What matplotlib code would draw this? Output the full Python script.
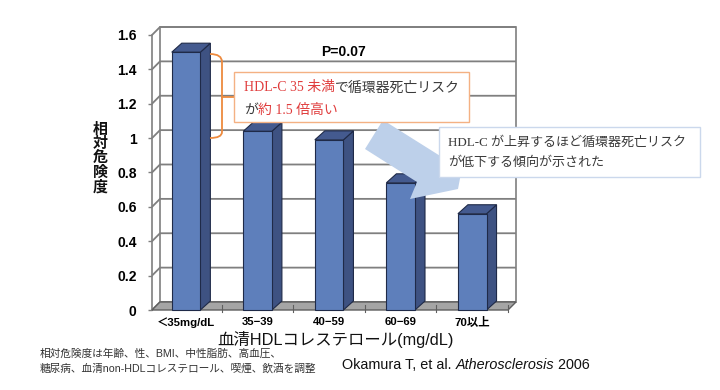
import matplotlib
matplotlib.use("Agg")
import matplotlib.pyplot as plt
from matplotlib.patches import Polygon, Rectangle
from matplotlib.path import Path
from matplotlib.patches import PathPatch

# ---------------- data ----------------
categories = ["＜35mg/dL", "35−39", "40−59", "60−69", "70以上"]
values = [1.50, 1.04, 0.99, 0.74, 0.56]
yticks = [0, 0.2, 0.4, 0.6, 0.8, 1.0, 1.2, 1.4, 1.6]
ytick_labels = ["0", "0.2", "0.4", "0.6", "0.8", "1", "1.2", "1.4", "1.6"]
ylabel = "相対危険度"
xlabel = "血清HDLコレステロール(mg/dL)"
p_text = "P=0.07"
note_lines = ["相対危険度は年齢、性、BMI、中性脂肪、高血圧、",
              "糖尿病、血清non-HDLコレステロール、喫煙、飲酒を調整"]

W, H = 720, 390
fig = plt.figure(figsize=(W / 100, H / 100), dpi=100)
fig.patch.set_facecolor("white")

JP = ["Liberation Sans", "Noto Sans CJK JP"]
SERIF_JP = ["Liberation Serif", "Noto Sans CJK JP"]

# main (front plane) axes
ax_l, ax_r, ax_b, ax_t = 152, 508, 310, 35
ax = fig.add_axes([ax_l / W, (H - ax_b) / H, (ax_r - ax_l) / W, (ax_b - ax_t) / H])
x0, x1 = -0.476, 4.5
y0, y1 = 0.0, 1.6
ax.set_xlim(x0, x1)
ax.set_ylim(y0, y1)
ax.set_facecolor("none")
for s in ["top", "right", "bottom"]:
    ax.spines[s].set_visible(False)
ax.spines["left"].set_color("#7f7f7f")
ax.spines["left"].set_linewidth(1.2)

pxx = (ax_r - ax_l) / (x1 - x0)
pxy = (ax_b - ax_t) / (y1 - y0)
wdx, wdy = 8 / pxx, 8 / pxy      # wall depth
bdx, bdy = 10 / pxx, 9 / pxy     # bar depth
bw = 0.40

grid_c = "#7f7f7f"
# back wall
ax.add_patch(Polygon([(x0 + wdx, wdy), (x1 + wdx, wdy), (x1 + wdx, y1 + wdy), (x0 + wdx, y1 + wdy)],
                     closed=True, facecolor="white", edgecolor=grid_c, lw=1.2, clip_on=False, zorder=1))
for yv in yticks:
    ax.plot([x0, x0 + wdx, x1 + wdx], [yv, yv + wdy, yv + wdy], color=grid_c, lw=1.3,
            clip_on=False, zorder=2, solid_capstyle="butt")
# floor
ax.add_patch(Polygon([(x0, 0), (x1, 0), (x1 + wdx, wdy), (x0 + wdx, wdy)], closed=True,
                     facecolor="#a5a5a5", edgecolor="#5f5f5f", lw=1.0, clip_on=False, zorder=3))
for i in range(len(categories)):
    xm = i + 0.5
    ax.plot([xm, xm], [-0.012, wdy * 0.6], color="#5f5f5f", lw=0.8, clip_on=False, zorder=3)

# bars
front_c, side_c, top_c, edge_c = "#5e7fbb", "#3e5282", "#445a8f", "#1f2a48"
for i, v in enumerate(values):
    xl, xr = i - bw / 2, i + bw / 2
    ax.add_patch(Polygon([(xr, 0), (xr + bdx, bdy), (xr + bdx, v + bdy), (xr, v)], closed=True,
                         facecolor=side_c, edgecolor=edge_c, lw=0.8, clip_on=False, zorder=5))
    ax.add_patch(Polygon([(xl, v), (xr, v), (xr + bdx, v + bdy), (xl + bdx, v + bdy)], closed=True,
                         facecolor=top_c, edgecolor=edge_c, lw=0.8, clip_on=False, zorder=5))
    ax.add_patch(Rectangle((xl, 0), bw, v, facecolor=front_c, edgecolor=edge_c, lw=0.8,
                           clip_on=False, zorder=6))

ax.set_yticks(yticks)
ax.set_yticklabels(ytick_labels, fontsize=10, fontweight="bold", family=JP)
ax.tick_params(axis="y", length=3, width=1.0, color=grid_c, pad=8)
ax.set_xticks(range(len(categories)))
ax.set_xticklabels(categories, fontsize=8.2, fontweight="bold", family=JP)
ax.tick_params(axis="x", length=0, pad=5)

# ---------------- overlay in pixel coords ----------------
ov = fig.add_axes([0, 0, 1, 1])
ov.set_xlim(0, W)
ov.set_ylim(H, 0)
ov.axis("off")
ov.set_facecolor("none")

ov.text(100, 159, "\n".join(ylabel), ha="center", va="center", fontsize=10.8,
        fontweight="bold", family=JP, linespacing=1.03, color="#111111")
ov.text(336, 339, xlabel, ha="center", va="center", fontsize=11.8, family=JP, color="#111111")
ov.text(343, 52, p_text, ha="center", va="center", fontsize=10, fontweight="bold", family=JP)

ov.text(40, 354, note_lines[0], ha="left", va="center", fontsize=7.7, family=JP, color="#333333")
ov.text(40, 368, note_lines[1], ha="left", va="center", fontsize=7.7, family=JP, color="#333333")


def chain(pieces, x, y, fontsize, family):
    t = ov.text(x, y, pieces[0][0], color=pieces[0][1], va="center", ha="left",
                fontsize=fontsize, family=family, style=pieces[0][2] if len(pieces[0]) > 2 else "normal")
    prev = t
    for p in pieces[1:]:
        prev = ov.annotate(p[0], xy=(1, 0), xycoords=prev, va="bottom", ha="left", color=p[1],
                           fontsize=fontsize, family=family,
                           style=p[2] if len(p) > 2 else "normal")
    return t


chain([("Okamura T, et al. ", "#111111"), ("Atherosclerosis", "#111111", "italic"),
       (" 2006", "#111111")], 342, 365, 10.4, ["Liberation Sans"])

# arrow (light blue)
arrow_pts = [(383, 120), (445, 159), (462, 168), (458, 189), (410, 199), (417, 182), (365, 149)]
ov.add_patch(Polygon(arrow_pts, closed=True, facecolor="#bdd0ea", edgecolor="none", zorder=3))

# bracket
red = "#e03c3c"
dark = "#3a3a3a"
br = "#ed8a3e"
verts = [(210, 54), (222, 54), (222, 62), (222, 97), (234, 97), (222, 97), (222, 132), (222, 138), (210, 138)]
codes = [Path.MOVETO, Path.CURVE3, Path.CURVE3, Path.LINETO, Path.LINETO, Path.MOVETO,
         Path.LINETO, Path.CURVE3, Path.CURVE3]
ov.add_patch(PathPatch(Path(verts, codes), facecolor="none", edgecolor=br, lw=1.3, zorder=4))

# box 1
ov.add_patch(Rectangle((234, 72), 235, 50, facecolor="white", edgecolor="#f4b183", lw=1.0, zorder=5))
chain([("HDL-C 35 未満", red), ("で循環器死亡リスク", dark)], 244, 88, 10, SERIF_JP)
chain([("が", dark), ("約 1.5 倍高い", red)], 244, 110, 10, SERIF_JP)
for t in ov.texts:
    t.set_zorder(6)

# box 2
ov.add_patch(Rectangle((439, 127), 261, 50, facecolor="white", edgecolor="#cbd8ec", lw=1.0, zorder=7))
ov.text(448, 143, "HDL-C が上昇するほど循環器死亡リスク", ha="left", va="center", fontsize=9.4,
        family=SERIF_JP, color=dark, zorder=8)
ov.text(448, 163, "が低下する傾向が示された", ha="left", va="center", fontsize=9.4,
        family=SERIF_JP, color=dark, zorder=8)

fig.savefig("out.png", dpi=100, facecolor="white")
